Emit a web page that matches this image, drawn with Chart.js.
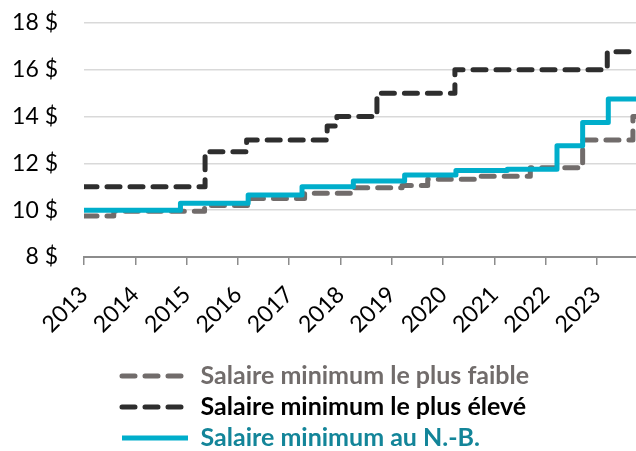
<!DOCTYPE html>
<html lang="fr">
<head>
<meta charset="UTF-8">
<title>Salaire minimum</title>
<script src="https://cdn.jsdelivr.net/npm/chart.js@4/dist/chart.umd.min.js"></script>
<style>
body { margin: 0; background: #fff; }
#wrap { width: 636px; height: 451px; }
</style>
</head>
<body>
<div id="wrap"><canvas id="chart" width="636" height="451"></canvas></div>
<script>
// years shown on the x axis
const years = [2013, 2014, 2015, 2016, 2017, 2018, 2019, 2020, 2021, 2022, 2023];
const xStart = 2013;
const xEnd = 2023.76;   // picture is cut off here

// dates where each wage changes, and the new value
const lowDates  = [2013, 2013.58, 2015.35, 2016.25, 2017.3, 2018.22, 2019.2, 2019.7, 2020.64, 2021.7, 2022.72, 2023.7];
const lowValues = [9.75, 9.95, 10.20, 10.50, 10.72, 10.96, 11.06, 11.32, 11.45, 11.81, 13.00, 14.00];

const highDates  = [2013, 2015.36, 2016.17, 2017.74, 2017.93, 2018.71, 2020.23, 2023.2];
const highValues = [11.00, 12.50, 13.00, 13.60, 14.00, 15.00, 16.00, 16.77];

const nbDates  = [2013, 2014.88, 2016.2, 2017.25, 2018.25, 2019.25, 2020.25, 2021.25, 2022.22, 2022.72, 2023.22];
const nbValues = [10.00, 10.30, 10.65, 11.00, 11.25, 11.50, 11.70, 11.75, 12.75, 13.75, 14.75];

const seriesNames = ['Salaire minimum le plus faible', 'Salaire minimum le plus élevé', 'Salaire minimum au N.-B.'];
const yTicks = [8, 10, 12, 14, 16, 18];

function toPoints(dates, values) {
	var pts = dates.map(function (d, i) { return { x: d, y: values[i] }; });
	pts.push({ x: xEnd, y: values[values.length - 1] });
	return pts;
}

const lineColors = ['#716c6b', '#2e2e2e', '#00aecb'];
const textColors = ['#716c6b', '#000000', '#138599'];
const dashes = [[13, 10], [13, 10], []];

// move the legend rows so they start under the plot like the original
const legendShift = {
	id: 'legendShift',
	afterLayout: function (chart) {
		chart.legend.left += 116;
	}
};

const data = {
	datasets: [{
		label: seriesNames[0],
		data: toPoints(lowDates, lowValues),
		borderColor: lineColors[0],
		borderDash: dashes[0],
		order: 2
	}, {
		label: seriesNames[1],
		data: toPoints(highDates, highValues),
		borderColor: lineColors[1],
		borderDash: dashes[1],
		order: 1
	}, {
		label: seriesNames[2],
		data: toPoints(nbDates, nbValues),
		borderColor: lineColors[2],
		borderDash: dashes[2],
		borderCapStyle: 'butt',
		order: 0
	}]
};

const config = {
	type: 'line',
	data: data,
	plugins: [legendShift],
	options: {
		responsive: false,
		animation: false,
		layout: { padding: { top: 23, left: 0, right: 0, bottom: -9.5 } },
		elements: {
			point: { radius: 0 },
			line: { borderWidth: 5, stepped: true, tension: 0, borderCapStyle: 'round', borderJoinStyle: 'round' }
		},
		scales: {
			x: {
				type: 'linear',
				min: xStart,
				max: xEnd,
				afterBuildTicks: function (axis) {
					axis.ticks = years.map(function (y) { return { value: y }; });
				},
				afterFit: function (axis) { axis.height = 100.5; },
				ticks: {
					includeBounds: false,
					minRotation: 45,
					maxRotation: 45,
					padding: 16,
					color: '#000',
					font: { family: 'Lato', size: 23 },
					callback: function (v) { return String(v); }
				},
				grid: { drawOnChartArea: false, drawTicks: true, tickLength: 8, color: '#8c8c8c', lineWidth: 1.5 },
				border: { display: true, color: '#8c8c8c', width: 2 }
			},
			y: {
				min: 8,
				max: 18,
				afterBuildTicks: function (axis) {
					axis.ticks = yTicks.map(function (v) { return { value: v }; });
				},
				afterFit: function (axis) { axis.width = 84; },
				ticks: {
					padding: 3,
					color: '#000',
					font: { family: 'Lato', size: 23 },
					callback: function (v) { return v + ' $'; }
				},
				// invisible tick marks give the gap between labels and plot
				grid: { drawTicks: true, tickLength: 23, tickColor: 'rgba(0,0,0,0)', color: '#d9d9d9', lineWidth: 1.5 },
				border: { display: false }
			}
		},
		plugins: {
			tooltip: { enabled: false },
			legend: {
				position: 'bottom',
				align: 'start',
				labels: {
					usePointStyle: true,
					pointStyleWidth: 66,
					padding: 6,
					font: { family: 'Lato', size: 25, weight: 'bold' },
					generateLabels: function (chart) {
						return chart.data.datasets.map(function (ds, i) {
							return {
								text: ds.label,
								fontColor: textColors[i],
								strokeStyle: lineColors[i],
								fillStyle: lineColors[i],
								lineWidth: 5,
								lineDash: dashes[i],
								lineCap: i < 2 ? 'round' : 'butt',
								pointStyle: 'line',
								datasetIndex: i,
								hidden: false
							};
						});
					}
				}
			}
		}
	}
};

var myChart = new Chart(document.getElementById('chart'), config);
</script>
</body>
</html>
